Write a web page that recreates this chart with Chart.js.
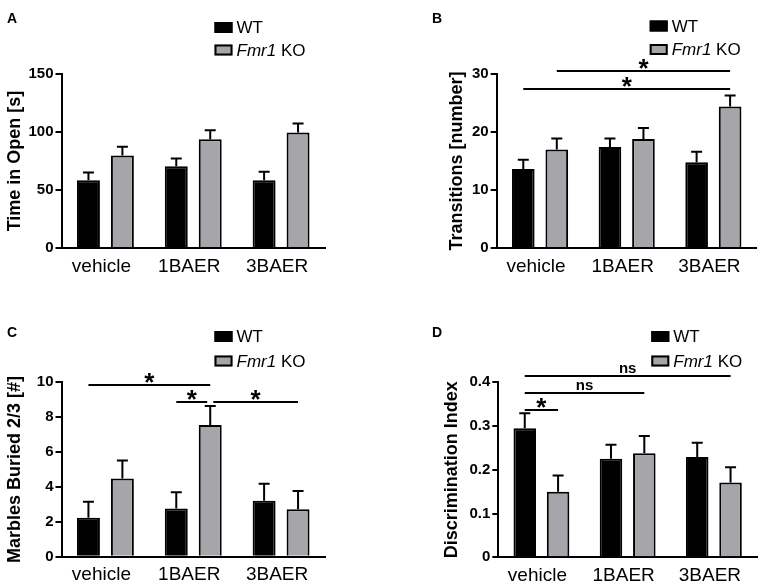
<!DOCTYPE html>
<html>
<head>
<meta charset="utf-8">
<script src="https://cdn.jsdelivr.net/npm/chart.js@4.4.1/dist/chart.umd.min.js"></script>
<style>
  html, body { margin: 0; padding: 0; background: #fff; }
  #wrap { position: relative; width: 765px; height: 586px; overflow: hidden; }
  canvas { position: absolute; }
</style>
</head>
<body>
<div id="wrap">
  <canvas id="chartA" width="382" height="295" style="left:0;top:0"></canvas>
  <canvas id="chartB" width="383" height="295" style="left:382px;top:0"></canvas>
  <canvas id="chartC" width="382" height="291" style="left:0;top:295px"></canvas>
  <canvas id="chartD" width="383" height="291" style="left:382px;top:295px"></canvas>
</div>
<script>
const categories = ['vehicle', '1BAER', '3BAER'];
const seriesLabels = ['WT', 'Fmr1 KO'];

// A - time in open arms
const timeOpenWT = [58.5, 70.5, 58.5];
const timeOpenWTErr = [6.6, 6.6, 7.2];
const timeOpenKO = [79.7, 93.8, 99.5];
const timeOpenKOErr = [7.5, 7.7, 7.8];
const timeOpenTicks = [0, 50, 100, 150];

// B - transitions
const transWT = [13.6, 17.4, 14.8];
const transWTErr = [1.6, 1.5, 1.8];
const transKO = [17.0, 18.8, 24.4];
const transKOErr = [1.9, 1.9, 1.9];
const transTicks = [0, 10, 20, 30];

// C - marbles buried
const marblesWT = [2.24, 2.77, 3.21];
const marblesWTErr = [0.91, 0.92, 0.98];
const marblesKO = [4.49, 7.55, 2.72];
const marblesKOErr = [1.02, 1.09, 1.05];
const marblesTicks = [0, 2, 4, 6, 8, 10];

// D - discrimination index
const discWT = [0.295, 0.225, 0.229];
const discWTErr = [0.034, 0.032, 0.033];
const discKO = [0.150, 0.238, 0.171];
const discKOErr = [0.037, 0.039, 0.035];
const discTicks = [0, 0.1, 0.2, 0.3, 0.4];

// significance bars: [dataset, category] -> [dataset, category] at a value
const transSig = [
  { from: [1, 0], to: [1, 2], value: 30.5, text: '*' },
  { from: [0, 0], to: [1, 2], value: 27.4, text: '*' }
];
const marblesSig = [
  { from: [0, 0], to: [1, 1], value: 9.85, text: '*' },
  { from: [0, 1], to: [1, 1], value: 8.89, text: '*', trim: [0, 3] },
  { from: [1, 1], to: [1, 2], value: 8.89, text: '*', trim: [3, 0] }
];
const discSig = [
  { from: [0, 0], to: [1, 2], value: 0.4145, text: 'ns' },
  { from: [0, 0], to: [1, 1], value: 0.376, text: 'ns' },
  { from: [0, 0], to: [1, 0], value: 0.337, text: '*' }
];

const FONT = "'Liberation Sans', Arial, Helvetica, sans-serif";
const KO_GREY = '#a6a6aa';

function makeMarks(cfg) {
  return {
    id: 'panelMarks',
    afterDatasetsDraw(chart) {
      const ctx = chart.ctx;
      const yScale = chart.scales.y;
      ctx.save();
      ctx.strokeStyle = '#000';
      ctx.lineWidth = 2;
      // error bars (upper only)
      chart.data.datasets.forEach((ds, i) => {
        chart.getDatasetMeta(i).data.forEach((bar, j) => {
          const top = yScale.getPixelForValue(ds.data[j] + ds.errors[j]);
          ctx.beginPath();
          ctx.moveTo(bar.x, bar.y);
          ctx.lineTo(bar.x, top);
          ctx.moveTo(bar.x - 5.5, top);
          ctx.lineTo(bar.x + 5.5, top);
          ctx.stroke();
        });
      });
      // significance lines
      (cfg.sig || []).forEach(s => {
        const trim = s.trim || [0, 0];
        const x1 = chart.getDatasetMeta(s.from[0]).data[s.from[1]].x + trim[0];
        const x2 = chart.getDatasetMeta(s.to[0]).data[s.to[1]].x - trim[1];
        const y = Math.round(yScale.getPixelForValue(s.value));
        ctx.beginPath();
        ctx.moveTo(x1, y);
        ctx.lineTo(x2, y);
        ctx.stroke();
        ctx.fillStyle = '#000';
        ctx.textAlign = 'center';
        ctx.textBaseline = 'alphabetic';
        if (s.text === '*') {
          ctx.font = 'bold 26px ' + FONT;
          ctx.fillText(s.text, (x1 + x2) / 2, y + 6);
        } else {
          ctx.font = 'bold 15px ' + FONT;
          ctx.fillText(s.text, (x1 + x2) / 2, y - 3);
        }
      });
      ctx.restore();
    },
    afterDraw(chart) {
      const ctx = chart.ctx;
      const area = chart.chartArea;
      ctx.save();
      // panel letter
      ctx.fillStyle = '#000';
      ctx.font = 'bold 14px ' + FONT;
      ctx.textAlign = 'left';
      ctx.textBaseline = 'alphabetic';
      ctx.fillText(cfg.letter, cfg.letterPos[0], cfg.letterPos[1]);
      // legend
      const bx = area.left + 153;
      chart.data.datasets.forEach((ds, i) => {
        const cy = cfg.legendY[i];
        ctx.fillStyle = ds.backgroundColor;
        ctx.fillRect(bx, cy - 5.5, 18, 11);
        ctx.strokeStyle = '#000';
        ctx.lineWidth = 2;
        ctx.strokeRect(bx + 1, cy - 4.5, 16, 9);
        ctx.fillStyle = '#000';
        ctx.textBaseline = 'middle';
        let tx = bx + 22;
        const label = ds.label;
        if (label.startsWith('Fmr1')) {
          ctx.font = 'italic 17px ' + FONT;
          ctx.fillText('Fmr1', tx, cy + 1);
          tx += ctx.measureText('Fmr1').width;
          ctx.font = '17px ' + FONT;
          ctx.fillText(label.slice(4), tx, cy + 1);
        } else {
          ctx.font = '17px ' + FONT;
          ctx.fillText(label, tx, cy + 1);
        }
      });
      ctx.restore();
    }
  };
}

function buildPanel(id, cfg) {
  const canvas = document.getElementById(id);
  const W = canvas.width, H = canvas.height;
  return new Chart(canvas, {
    type: 'bar',
    data: {
      labels: categories,
      datasets: [
        { label: seriesLabels[0], data: cfg.wt, errors: cfg.wtErr,
          backgroundColor: '#000', borderColor: '#000', borderWidth: 2 },
        { label: seriesLabels[1], data: cfg.ko, errors: cfg.koErr,
          backgroundColor: KO_GREY, borderColor: '#000', borderWidth: 2 }
      ]
    },
    options: {
      responsive: false,
      animation: false,
      layout: { padding: { left: cfg.padLeft, top: cfg.area.top, right: W - cfg.area.right, bottom: 0 } },
      datasets: { bar: { categoryPercentage: 0.773, barPercentage: 0.676 } },
      scales: {
        x: {
          grid: { display: false, drawTicks: false },
          border: { color: '#000', width: 2 },
          ticks: { color: '#000', font: { family: FONT, size: 19 }, padding: 7, labelOffset: -4 },
          afterFit: s => { s.height = H - cfg.area.bottom; }
        },
        y: {
          min: 0,
          max: cfg.ticks[cfg.ticks.length - 1],
          afterBuildTicks: s => { s.ticks = cfg.ticks.map(v => ({ value: v })); },
          grid: { drawOnChartArea: false, color: '#000', lineWidth: 2, tickLength: 6 },
          border: { color: '#000', width: 2 },
          ticks: { color: '#000', font: { family: FONT, size: 15, weight: 'bold' }, padding: 2,
                   callback: v => String(v) },
          title: { display: true, text: cfg.title, color: '#000',
                   font: { family: FONT, size: 18, weight: 'bold' }, padding: { top: 4, bottom: 4 } },
          afterFit: s => { s.width = cfg.area.left - cfg.padLeft; }
        }
      },
      plugins: { legend: { display: false }, tooltip: { enabled: false } }
    },
    plugins: [makeMarks(cfg)]
  });
}

buildPanel('chartA', {
  wt: timeOpenWT, wtErr: timeOpenWTErr, ko: timeOpenKO, koErr: timeOpenKOErr,
  ticks: timeOpenTicks, title: 'Time in Open [s]', letter: 'A', letterPos: [7, 23],
  legendY: [27.5, 50], padLeft: 0, area: { left: 61.5, right: 325, top: 74, bottom: 248 }
});
buildPanel('chartB', {
  wt: transWT, wtErr: transWTErr, ko: transKO, koErr: transKOErr, sig: transSig,
  ticks: transTicks, title: 'Transitions [number]', letter: 'B', letterPos: [50, 23],
  legendY: [26, 49.5], padLeft: 60, area: { left: 114.7, right: 374.7, top: 74, bottom: 248 }
});
buildPanel('chartC', {
  wt: marblesWT, wtErr: marblesWTErr, ko: marblesKO, koErr: marblesKOErr, sig: marblesSig,
  ticks: marblesTicks, title: 'Marbles Buried 2/3 [#]', letter: 'C', letterPos: [7, 42],
  legendY: [41.5, 66], padLeft: 0, area: { left: 61.5, right: 325, top: 87.3, bottom: 261.7 }
});
buildPanel('chartD', {
  wt: discWT, wtErr: discWTErr, ko: discKO, koErr: discKOErr, sig: discSig,
  ticks: discTicks, title: 'Discrimination Index', letter: 'D', letterPos: [50, 42],
  legendY: [41.5, 66], padLeft: 55, area: { left: 116.3, right: 375, top: 87.3, bottom: 262.3 }
});
</script>
</body>
</html>
